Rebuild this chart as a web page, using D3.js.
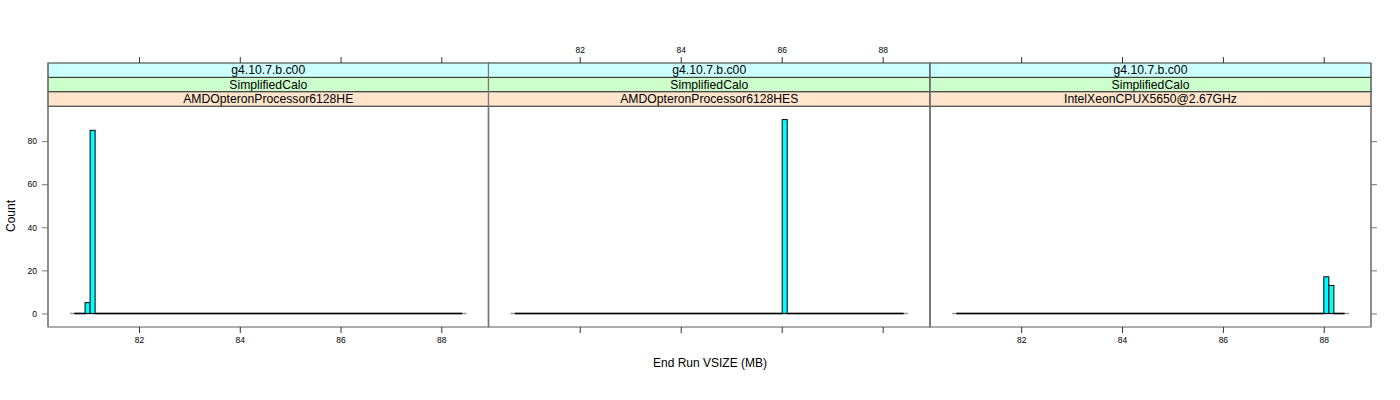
<!DOCTYPE html>
<html>
<head>
<meta charset="utf-8">
<script src="https://cdn.jsdelivr.net/npm/d3@7"></script>
<style>
  html, body { margin: 0; padding: 0; background: #fff; }
  svg { display: block; font-family: "Liberation Sans", Arial, Helvetica, sans-serif; }
</style>
</head>
<body>
<svg id="chart" width="1400" height="400"></svg>
<script>
// ---- data ----
const panelNames = ["AMDOpteronProcessor6128HE", "AMDOpteronProcessor6128HES", "IntelXeonCPUX5650@2.67GHz"];
const stripMiddle = ["SimplifiedCalo", "SimplifiedCalo", "SimplifiedCalo"];
const stripTop = ["g4.10.7.b.c00", "g4.10.7.b.c00", "g4.10.7.b.c00"];
const breakStart = 80.73;      // first histogram break (MB)
const breakEnd = 88.40;        // last histogram break (MB)
const binCount = 77;           // number of histogram bins
// non-empty bins (index of bin) and their counts, per panel
const panel1Bins = [2, 3];   const panel1Counts = [5, 85];
const panel2Bins = [53];     const panel2Counts = [90];
const panel3Bins = [73, 74]; const panel3Counts = [17, 13];
const xTicks = [82, 84, 86, 88];
const yTicks = [0, 20, 40, 60, 80];
const xTitle = "End Run VSIZE (MB)";
const yTitle = "Count";
const stripColors = ["#ccffff", "#ccffcc", "#ffe5cc"];

// ---- layout ----
const svg = d3.select("#chart");
const panelTop = 106, panelBottom = 327;
const stripH = 14.4, stripTopY = 63;
const panelX = [48, 488.5, 930];
const panelW = [440.5, 441.5, 441];

const binW = (breakEnd - breakStart) / binCount;
const pad = (breakEnd - breakStart) * 0.07;
const yMax = 90, yPad = yMax * 0.07;
const y = d3.scaleLinear().domain([-yPad, yMax + yPad]).range([panelBottom, panelTop]);

const panelData = [
  {bins: panel1Bins, counts: panel1Counts},
  {bins: panel2Bins, counts: panel2Counts},
  {bins: panel3Bins, counts: panel3Counts}
];

panelData.forEach((pd, i) => {
  const x0 = panelX[i], w = panelW[i];
  const x = d3.scaleLinear().domain([breakStart - pad, breakEnd + pad]).range([x0, x0 + w]);
  const g = svg.append("g");

  // build full bin list
  const bars = d3.range(binCount).map(k => {
    const j = pd.bins.indexOf(k);
    return {lo: breakStart + k * binW, hi: breakStart + (k + 1) * binW, c: j >= 0 ? pd.counts[j] : 0};
  });

  // faint extension of baseline
  g.append("line")
    .attr("x1", x(breakStart) - 5).attr("x2", x(breakEnd) + 5)
    .attr("y1", y(0)).attr("y2", y(0))
    .attr("stroke", "#999").attr("stroke-width", 1.5);

  // zero-height bins drawn as their outline (a line on the baseline)
  const zeroPath = d3.path();
  bars.filter(d => d.c === 0).forEach(d => { zeroPath.moveTo(x(d.lo), y(0)); zeroPath.lineTo(x(d.hi), y(0)); });
  g.append("path").attr("d", zeroPath.toString())
    .attr("fill", "none").attr("stroke", "#000").attr("stroke-width", 1.5).attr("stroke-linecap", "square");

  g.selectAll("rect.bar").data(bars.filter(d => d.c > 0)).join("rect")
    .attr("class", "bar")
    .attr("x", d => x(d.lo))
    .attr("width", d => x(d.hi) - x(d.lo))
    .attr("y", d => y(d.c))
    .attr("height", d => y(0) - y(d.c))
    .attr("fill", "#00ffff")
    .attr("stroke", "#000")
    .attr("stroke-width", 1);

  // panel border
  g.append("rect").attr("x", x0).attr("y", panelTop).attr("width", w).attr("height", panelBottom - panelTop)
    .attr("fill", "none").attr("stroke", "#777").attr("stroke-width", 1.2);

  // strips
  const stripTexts = [stripTop[i], stripMiddle[i], panelNames[i]];
  stripTexts.forEach((t, s) => {
    const sy = stripTopY + s * stripH;
    g.append("rect").attr("x", x0).attr("y", sy).attr("width", w).attr("height", stripH)
      .attr("fill", stripColors[s]).attr("stroke", "#333").attr("stroke-width", 1);
    g.append("text").attr("x", x0 + w / 2).attr("y", sy + stripH / 2 + 4.2)
      .attr("text-anchor", "middle").attr("font-size", 12.2).attr("fill", "#000").text(t);
  });
  g.append("line").attr("x1", x0).attr("x2", x0).attr("y1", stripTopY).attr("y2", panelBottom)
    .attr("stroke", "#777").attr("stroke-width", 1.2);
  g.append("line").attr("x1", x0 + w).attr("x2", x0 + w).attr("y1", stripTopY).attr("y2", panelBottom)
    .attr("stroke", "#777").attr("stroke-width", 1.2);

  // bottom axis
  const bottomAxis = d3.axisBottom(x).tickValues(xTicks).tickSize(6).tickPadding(4)
    .tickFormat(i === 1 ? "" : d3.format("d"));
  const ba = g.append("g").attr("transform", `translate(0,${panelBottom})`).call(bottomAxis);
  ba.select(".domain").remove();
  ba.selectAll("line").attr("stroke", "#333");
  ba.selectAll("text").attr("font-size", 8.5).attr("fill", "#000").attr("font-family", "Liberation Sans, Arial, sans-serif");

  // top axis
  const topAxis = d3.axisTop(x).tickValues(xTicks).tickSize(6).tickPadding(4)
    .tickFormat(i === 1 ? d3.format("d") : "");
  const ta = g.append("g").attr("transform", `translate(0,${stripTopY})`).call(topAxis);
  ta.select(".domain").remove();
  ta.selectAll("line").attr("stroke", "#333");
  ta.selectAll("text").attr("font-size", 8.5).attr("fill", "#000").attr("font-family", "Liberation Sans, Arial, sans-serif");

  if (i === 0) {
    const la = g.append("g").attr("transform", `translate(${x0},0)`)
      .call(d3.axisLeft(y).tickValues(yTicks).tickSize(6).tickPadding(5).tickFormat(d3.format("d")));
    la.select(".domain").remove();
    la.selectAll("line").attr("stroke", "#777");
    la.selectAll("text").attr("font-size", 8.5).attr("fill", "#000").attr("font-family", "Liberation Sans, Arial, sans-serif");
  }
  if (i === 2) {
    const ra = g.append("g").attr("transform", `translate(${x0 + w},0)`)
      .call(d3.axisRight(y).tickValues(yTicks).tickSize(6).tickFormat(""));
    ra.select(".domain").remove();
    ra.selectAll("line").attr("stroke", "#777");
  }
});

// titles
svg.append("text").attr("x", 710).attr("y", 366.5).attr("text-anchor", "middle")
  .attr("font-size", 12).attr("fill", "#000").text(xTitle);
svg.append("text").attr("transform", "translate(15,216) rotate(-90)").attr("text-anchor", "middle")
  .attr("font-size", 12).attr("fill", "#000").text(yTitle);
</script>
</body>
</html>
